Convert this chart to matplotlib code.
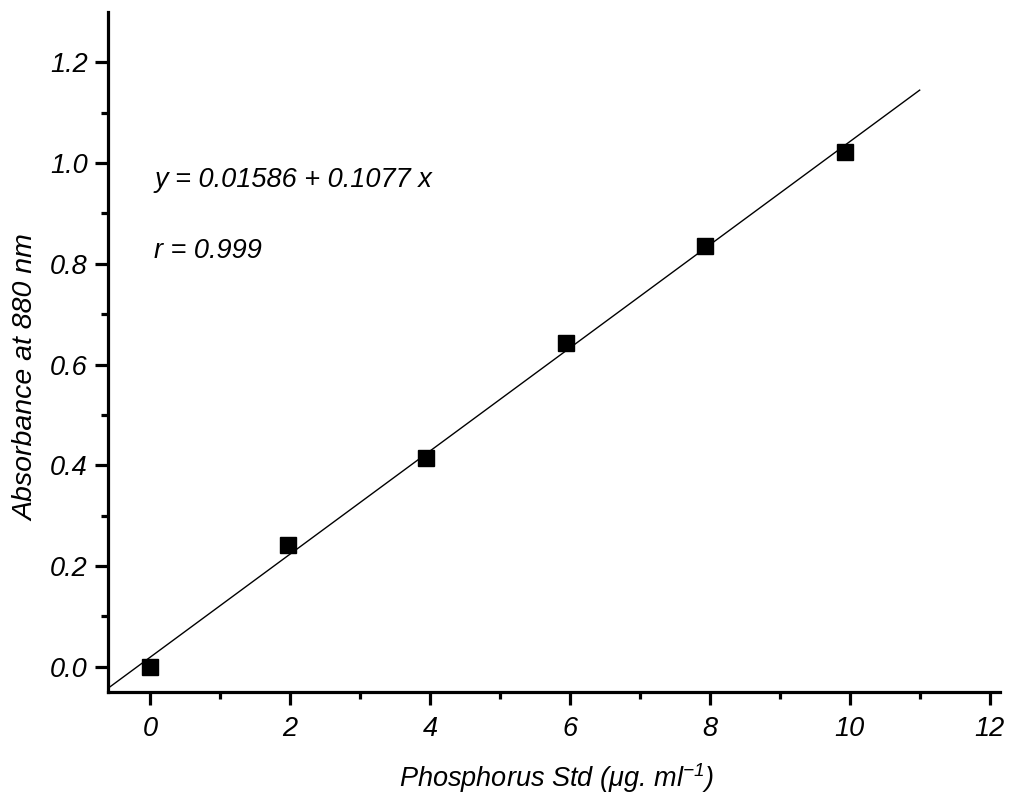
import matplotlib.pyplot as plt
import numpy as np

plt.rcParams['font.family'] = ['Liberation Sans', 'DejaVu Sans']
plt.rcParams['font.style'] = 'italic'
plt.rcParams['mathtext.fontset'] = 'custom'
plt.rcParams['mathtext.rm'] = 'Liberation Sans:italic'
plt.rcParams['mathtext.it'] = 'Liberation Sans:italic'

# phosphorus standard concentrations and measured absorbance
conc = [0, 1.97, 3.95, 5.95, 7.93, 9.93]
absorb = [0.0, 0.242, 0.415, 0.643, 0.835, 1.022]

x_ticks = [0, 2, 4, 6, 8, 10, 12]
y_ticks = [0.0, 0.2, 0.4, 0.6, 0.8, 1.0, 1.2]

fig = plt.figure(figsize=(10.3, 8), dpi=100)
ax = fig.add_axes([0.105, 0.135, 0.866, 0.85])

# least squares line through the points
slope, icpt = np.polyfit(conc, absorb, 1)
xl = np.array([-0.6, 11.0])
ax.plot(xl, icpt + slope * xl, color='black', lw=1.0)
ax.plot(conc, absorb, 'ks', ms=11.5)

ax.set_xlim(-0.6, 12.15)
ax.set_ylim(-0.05, 1.30)
ax.set_xticks(x_ticks)
ax.set_yticks(y_ticks)
ax.set_xticks(np.arange(0, 12, 1), minor=True)
ax.set_yticks(np.arange(0, 1.3, 0.1), minor=True)
ax.set_yticklabels([f'{v:.1f}' for v in y_ticks])

for s in ['top', 'right']:
    ax.spines[s].set_visible(False)
for s in ['left', 'bottom']:
    ax.spines[s].set_linewidth(2.3)
ax.tick_params(which='major', length=9.5, width=2.3, labelsize=19.5)
ax.tick_params(axis='x', which='major', pad=8)
ax.tick_params(axis='y', which='major', pad=5)
ax.tick_params(which='minor', length=5, width=2.3)

ax.set_xlabel('Phosphorus Std ($\\mu$g. ml$^{-1}$)', fontsize=19.5)
ax.set_ylabel('Absorbance at 880 nm', fontsize=20.5)
ax.xaxis.set_label_coords(0.503, -0.102)
ax.yaxis.set_label_coords(-0.077, 0.462)

ax.text(0.06, 0.966, 'y = 0.01586 + 0.1077 x', fontsize=19.5, va='center')
ax.text(0.06, 0.826, 'r = 0.999', fontsize=19.5, va='center')

fig.savefig('out.png', dpi=100)
